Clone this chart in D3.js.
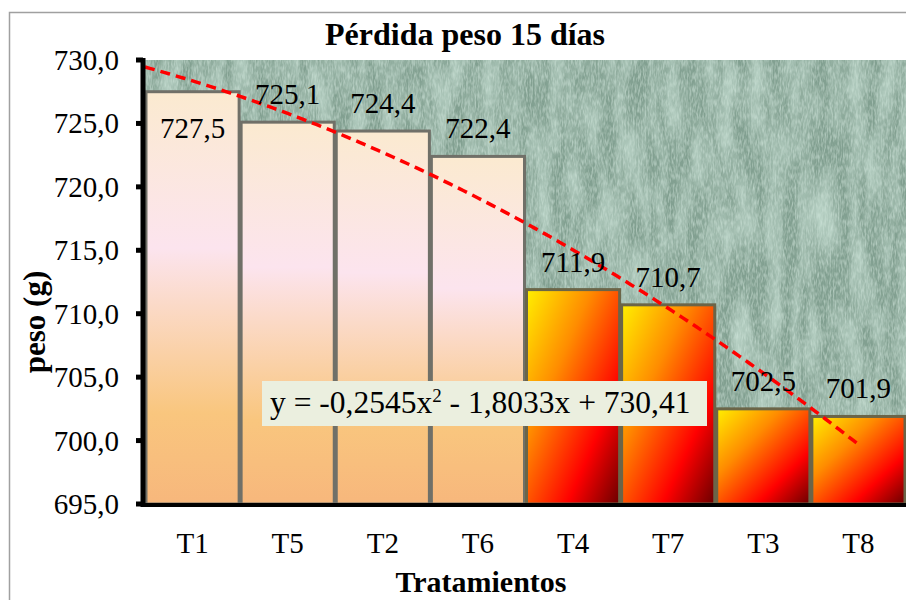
<!DOCTYPE html>
<html>
<head>
<meta charset="utf-8">
<script src="https://cdn.jsdelivr.net/npm/d3@7"></script>
<style>
  html, body { margin: 0; padding: 0; background: #ffffff; }
  svg { display: block; }
</style>
</head>
<body>
<svg id="chart" width="906" height="600" style="font-family: 'Liberation Serif', 'DejaVu Serif', 'Times New Roman', Times, serif;"></svg>
<script>
// Treatments in plotted order and their 15-day weights (g)
const categories = ["T1", "T5", "T2", "T6", "T4", "T7", "T3", "T8"];
const values = [727.5, 725.1, 724.4, 722.4, 711.9, 710.7, 702.5, 701.9];
const valueLabels = ["727,5", "725,1", "724,4", "722,4", "711,9", "710,7", "702,5", "701,9"];
// First four bars use the pastel fill, the rest the fire fill
const fillGroup = ["pastel", "pastel", "pastel", "pastel", "fire", "fire", "fire", "fire"];
const yTicks = [695, 700, 705, 710, 715, 720, 725, 730];
const yTickLabels = ["695,0", "700,0", "705,0", "710,0", "715,0", "720,0", "725,0", "730,0"];
// Polynomial trend: y = a x^2 + b x + c
const trendCoef = [-0.2545, -1.8033, 730.41];
const trendRange = [0.5, 8];

const FONT = "'Liberation Serif', 'DejaVu Serif', 'Times New Roman', Times, serif";
const svg = d3.select("#chart");
const W = 906, H = 600;
const plot = { left: 145, right: 906, top: 60, bottom: 504 };

const x = d3.scaleBand().domain(categories).range([plot.left, plot.right]).padding(0);
const y = d3.scaleLinear().domain([695, 730]).range([plot.bottom, plot.top]);
// continuous x for the trend line: 1 = centre of the first band
const xt = d3.scaleLinear().domain([0.5, 8.5]).range([plot.left, plot.right]);

const defs = svg.append("defs");

// Pastel vertical gradient
const gp = defs.append("linearGradient").attr("id", "pastel")
  .attr("x1", 0).attr("y1", 0).attr("x2", 0).attr("y2", 1);
[[0, "#fbead0"], [0.38, "#fce4ee"], [0.78, "#f9c67e"], [1, "#f7b77c"]]
  .forEach(([o, c]) => gp.append("stop").attr("offset", o).attr("stop-color", c));

// Fire diagonal gradient
const gf = defs.append("linearGradient").attr("id", "fire")
  .attr("x1", 0).attr("y1", 0).attr("x2", 1).attr("y2", 1);
[[0, "#fff000"], [0.35, "#ff8c00"], [0.72, "#ff0000"], [1, "#6a0000"]]
  .forEach(([o, c]) => gf.append("stop").attr("offset", o).attr("stop-color", c));

// Green marble texture for the plot background
const marble = defs.append("filter").attr("id", "marble")
  .attr("filterUnits", "userSpaceOnUse")
  .attr("x", plot.left).attr("y", plot.top)
  .attr("width", plot.right - plot.left).attr("height", plot.bottom - plot.top);
marble.append("feFlood").attr("flood-color", "#82a091").attr("result", "base");
marble.append("feTurbulence").attr("type", "fractalNoise")
  .attr("baseFrequency", "0.06 0.016").attr("numOctaves", 5).attr("seed", 3)
  .attr("result", "noise");
marble.append("feColorMatrix").attr("in", "noise").attr("type", "matrix")
  .attr("values", "0 0 0 0 0.60  0 0 0 0 0.78  0 0 0 0 0.69  1.2 0 0 0 -0.4")
  .attr("result", "veins");
marble.append("feTurbulence").attr("type", "fractalNoise")
  .attr("baseFrequency", "0.6 0.15").attr("numOctaves", 2).attr("seed", 11)
  .attr("result", "grain");
marble.append("feColorMatrix").attr("in", "grain").attr("type", "matrix")
  .attr("values", "0 0 0 0 0.64  0 0 0 0 0.80  0 0 0 0 0.72  1.1 0 0 0 -0.42")
  .attr("result", "grainC");
marble.append("feMerge").call(m => {
  m.append("feMergeNode").attr("in", "base");
  m.append("feMergeNode").attr("in", "veins");
  m.append("feMergeNode").attr("in", "grainC");
});

// Outer chart border
svg.append("rect").attr("x", 9.5).attr("y", 12.5).attr("width", W).attr("height", H)
  .attr("fill", "#fff").attr("stroke", "#a0a0a0").attr("stroke-width", 1.5);

// Plot background
svg.append("rect").attr("x", plot.left).attr("y", plot.top)
  .attr("width", plot.right - plot.left).attr("height", plot.bottom - plot.top)
  .attr("fill", "#82a091").attr("filter", "url(#marble)");

// Bars
svg.append("g").selectAll("rect").data(values).join("rect")
  .attr("x", (d, i) => x(categories[i]) + 1)
  .attr("y", d => y(d))
  .attr("width", x.bandwidth() - 2)
  .attr("height", d => y(695) - y(d))
  .attr("fill", (d, i) => `url(#${fillGroup[i]})`)
  .attr("stroke", (d, i) => fillGroup[i] === "fire" ? "#6b6548" : "#707068")
  .attr("stroke-width", 3);

// Trend line
const trendPts = d3.range(trendRange[0], trendRange[1] + 0.001, 0.05)
  .map(t => [xt(t), y(trendCoef[0] * t * t + trendCoef[1] * t + trendCoef[2])]);
svg.append("path").attr("d", d3.line()(trendPts))
  .attr("fill", "none").attr("stroke", "#ff0000").attr("stroke-width", 3.5)
  .attr("stroke-dasharray", "10,6");

// Value labels
svg.append("g").selectAll("text").data(values).join("text")
  .attr("font-family", FONT)
  .attr("x", (d, i) => x(categories[i]) + x.bandwidth() / 2)
  .attr("y", (d, i) => i === 0 ? y(d) + 46 : y(d) - 18)
  .attr("text-anchor", "middle").attr("font-size", 29)
  .text((d, i) => valueLabels[i]);

// Trend equation box
const eq = svg.append("g");
eq.append("rect").attr("x", 262).attr("y", 381).attr("width", 445).attr("height", 45)
  .attr("fill", "#ebefdf");
const eqText = eq.append("text").attr("font-family", FONT)
  .attr("x", 270).attr("y", 413).attr("font-size", 31.5);
eqText.append("tspan").text("y = -0,2545x");
eqText.append("tspan").attr("font-size", 19).attr("dy", -11).text("2");
eqText.append("tspan").attr("dy", 11).text(" - 1,8033x + 730,41");

// Axes
svg.append("line").attr("x1", plot.left - 2).attr("x2", plot.right)
  .attr("y1", plot.bottom + 1).attr("y2", plot.bottom + 1)
  .attr("stroke", "#000").attr("stroke-width", 4);
svg.append("line").attr("x1", 143).attr("x2", 143)
  .attr("y1", plot.top - 2).attr("y2", plot.bottom + 3)
  .attr("stroke", "#000").attr("stroke-width", 5);

const yAxis = svg.append("g");
yAxis.selectAll("rect").data(yTicks).join("rect")
  .attr("x", 136).attr("y", d => y(d) - 2.5).attr("width", 7).attr("height", 5)
  .attr("fill", "#000");
yAxis.selectAll("text").data(yTicks).join("text")
  .attr("font-family", FONT)
  .attr("x", 119).attr("y", d => y(d) + 10)
  .attr("text-anchor", "end").attr("font-size", 29)
  .text((d, i) => yTickLabels[i]);

svg.append("g").selectAll("text").data(categories).join("text")
  .attr("font-family", FONT)
  .attr("x", d => x(d) + x.bandwidth() / 2).attr("y", 553)
  .attr("text-anchor", "middle").attr("font-size", 29)
  .text(d => d);

// Titles
svg.append("text").attr("font-family", FONT).attr("x", 465).attr("y", 45).attr("text-anchor", "middle")
  .attr("font-size", 32).attr("font-weight", "bold").text("Pérdida peso 15 días");
svg.append("text").attr("font-family", FONT).attr("x", 481).attr("y", 592).attr("text-anchor", "middle")
  .attr("font-size", 30).attr("font-weight", "bold").text("Tratamientos");
svg.append("text").attr("font-family", FONT).attr("transform", "translate(45,322) rotate(-90)")
  .attr("text-anchor", "middle").attr("font-size", 31).attr("font-weight", "bold")
  .text("peso (g)");
</script>
</body>
</html>
